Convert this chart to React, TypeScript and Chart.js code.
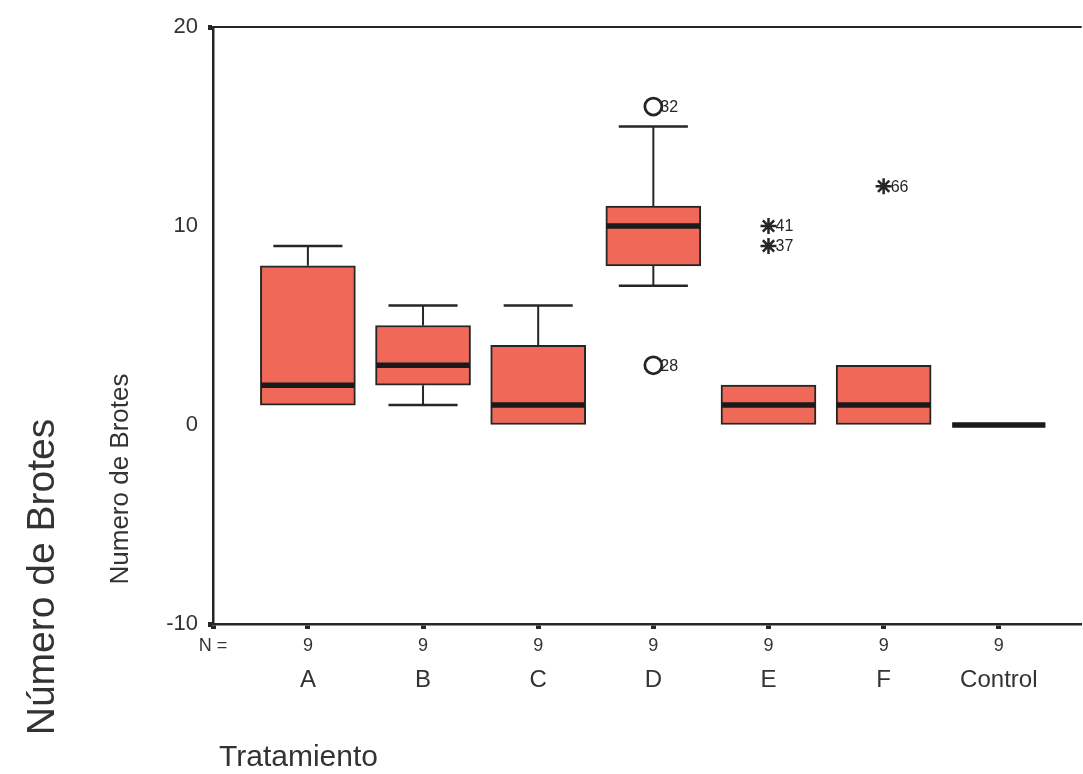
import React, { useEffect, useRef } from 'react';
import { Chart, registerables } from 'chart.js';

Chart.register(...registerables);

// ---- data ----
const categories = ['A', 'B', 'C', 'D', 'E', 'F', 'Control'];
const nCounts = [9, 9, 9, 9, 9, 9, 9];
const whiskerLow = [1, 1, 0, 7, 0, 0, 0];
const quartile1 = [1, 2, 0, 8, 0, 0, 0];
const medians = [2, 3, 1, 10, 1, 1, 0];
const quartile3 = [8, 5, 4, 11, 2, 3, 0];
const whiskerHigh = [9, 6, 6, 15, 2, 3, 0];

const outlierCats = [3, 3];
const outlierValues = [16, 3];
const outlierLabels = ['32', '28'];

const extremeCats = [4, 4, 5];
const extremeValues = [10, 9, 12];
const extremeLabels = ['41', '37', '66'];

const yTicks = [-10, 0, 10, 20];
const nLabel = 'N =';
const xTitle = 'Tratamiento';
const yTitle = 'Numero de Brotes';
const outerTitle = 'Número de Brotes';

// ---- layout / style constants ----
const X_MIN = -0.824;
const X_MAX = 6.72;
const MEDIAN_HALF = 0.405; // half width of median line, in category units
const CAP_HALF = 0.3; // half width of whisker caps, in category units
const FONT = '"Liberation Sans", Arial, sans-serif';
const INK = '#262626';
const BOX_FILL = '#EF6858';

const stemData: any[] = [];
const capData: any[] = [];
const medianData: any[] = [];
categories.forEach((_, i) => {
  if (whiskerHigh[i] > quartile3[i]) {
    stemData.push({ x: i, y: quartile3[i] }, { x: i, y: whiskerHigh[i] }, { x: i, y: null });
    capData.push({ x: i - CAP_HALF, y: whiskerHigh[i] }, { x: i + CAP_HALF, y: whiskerHigh[i] }, { x: i, y: null });
  }
  if (whiskerLow[i] < quartile1[i]) {
    stemData.push({ x: i, y: quartile1[i] }, { x: i, y: whiskerLow[i] }, { x: i, y: null });
    capData.push({ x: i - CAP_HALF, y: whiskerLow[i] }, { x: i + CAP_HALF, y: whiskerLow[i] }, { x: i, y: null });
  }
  medianData.push({ x: i - MEDIAN_HALF, y: medians[i] }, { x: i + MEDIAN_HALF, y: medians[i] }, { x: i, y: null });
});

const pointLabelPlugin = {
  id: 'pointLabelPlugin',
  afterDatasetsDraw(chart: any) {
    const ctx = chart.ctx;
    ctx.save();
    ctx.font = `16px ${FONT}`;
    ctx.fillStyle = INK;
    ctx.textAlign = 'left';
    ctx.textBaseline = 'middle';
    chart.data.datasets.forEach((ds: any, di: number) => {
      if (!ds.pointLabels) return;
      const meta = chart.getDatasetMeta(di);
      meta.data.forEach((el: any, j: number) => {
        ctx.fillText(ds.pointLabels[j], el.x + 7, el.y + 1);
      });
    });
    ctx.restore();
  },
};

const decorPlugin = {
  id: 'decorPlugin',
  afterDraw(chart: any) {
    const ctx = chart.ctx;
    const { left, right, top } = chart.chartArea;
    ctx.save();
    ctx.strokeStyle = INK;
    ctx.lineWidth = 2;
    ctx.beginPath();
    ctx.moveTo(left, top);
    ctx.lineTo(right, top);
    ctx.stroke();

    ctx.fillStyle = '#333';
    ctx.textAlign = 'center';
    ctx.textBaseline = 'middle';

    ctx.save();
    ctx.translate(121, 479);
    ctx.rotate(-Math.PI / 2);
    ctx.font = `26px ${FONT}`;
    ctx.fillText(yTitle, 0, 0);
    ctx.restore();

    ctx.save();
    ctx.translate(43, 577);
    ctx.rotate(-Math.PI / 2);
    ctx.font = `39px ${FONT}`;
    ctx.fillText(outerTitle, 0, 0);
    ctx.restore();

    ctx.textAlign = 'left';
    ctx.font = `30px ${FONT}`;
    ctx.fillText(xTitle, 219, 758);
    ctx.restore();
  },
};

export default function App() {
  const canvasRef = useRef<HTMLCanvasElement | null>(null);

  useEffect(() => {
    const canvas = canvasRef.current;
    if (!canvas) return;
    const chart = new Chart(canvas, {
      type: 'bar',
      data: {
        datasets: [
          {
            type: 'bar',
            label: 'box',
            data: categories.map((_, i) => ({ x: i, y: [quartile1[i], quartile3[i]] })) as any,
            backgroundColor: BOX_FILL,
            borderColor: INK,
            borderWidth: 2,
            borderSkipped: false,
            barThickness: 95,
            order: 5,
          } as any,
          {
            type: 'line',
            label: 'stems',
            data: stemData,
            borderColor: INK,
            borderWidth: 2,
            pointRadius: 0,
            spanGaps: false,
            order: 4,
          } as any,
          {
            type: 'line',
            label: 'caps',
            data: capData,
            borderColor: INK,
            borderWidth: 2.5,
            borderCapStyle: 'butt',
            pointRadius: 0,
            spanGaps: false,
            order: 3,
          } as any,
          {
            type: 'line',
            label: 'medians',
            data: medianData,
            borderColor: '#1a1a1a',
            borderWidth: 5.5,
            borderCapStyle: 'butt',
            pointRadius: 0,
            spanGaps: false,
            order: 2,
          } as any,
          {
            type: 'scatter',
            label: 'outliers',
            data: outlierCats.map((c, i) => ({ x: c, y: outlierValues[i] })),
            pointStyle: 'circle',
            pointRadius: 8.5,
            pointBackgroundColor: '#ffffff',
            borderColor: INK,
            pointBorderColor: INK,
            pointBorderWidth: 2.8,
            pointLabels: outlierLabels,
            order: 1,
          } as any,
          {
            type: 'scatter',
            label: 'extremes',
            data: extremeCats.map((c, i) => ({ x: c, y: extremeValues[i] })),
            pointStyle: 'star',
            pointRadius: 8,
            borderColor: INK,
            pointBorderColor: INK,
            pointBorderWidth: 2.5,
            pointLabels: extremeLabels,
            order: 0,
          } as any,
        ],
      },
      options: {
        responsive: false,
        animation: false,
        events: [],
        layout: { padding: { top: 27, right: 0, bottom: 79, left: 0 } },
        plugins: {
          legend: { display: false },
          tooltip: { enabled: false },
          title: { display: false },
        },
        scales: {
          x: {
            type: 'linear',
            position: 'bottom',
            weight: 0,
            offset: false,
            min: X_MIN,
            max: X_MAX,
            afterBuildTicks: (scale: any) => {
              scale.ticks = [X_MIN, ...categories.map((_, i) => i)].map((v) => ({ value: v }));
            },
            afterFit: (scale: any) => {
              scale.height = 33;
            },
            ticks: {
              autoSkip: false,
              maxRotation: 0,
              padding: 6,
              color: '#333',
              font: { family: FONT, size: 18 },
              callback: (_v: any, index: number) => (index === 0 ? nLabel : String(nCounts[index - 1])),
            },
            grid: {
              display: true,
              offset: false,
              drawOnChartArea: false,
              drawTicks: true,
              tickLength: 5,
              tickWidth: 5,
              tickColor: INK,
            },
            border: { display: true, color: INK, width: 2.5 },
          },
          xCat: {
            type: 'linear',
            position: 'bottom',
            weight: 1,
            offset: false,
            min: X_MIN,
            max: X_MAX,
            afterBuildTicks: (scale: any) => {
              scale.ticks = categories.map((_, i) => ({ value: i }));
            },
            afterFit: (scale: any) => {
              scale.height = 38;
            },
            ticks: {
              autoSkip: false,
              maxRotation: 0,
              padding: 9,
              color: '#333',
              font: { family: FONT, size: 24 },
              callback: (_v: any, index: number) => categories[index],
            },
            grid: { display: false, offset: false, drawTicks: false, tickLength: 0 },
            border: { display: false },
          },
          y: {
            type: 'linear',
            min: -10,
            max: 20,
            afterBuildTicks: (scale: any) => {
              scale.ticks = yTicks.map((v) => ({ value: v }));
            },
            afterFit: (scale: any) => {
              scale.width = 213;
            },
            ticks: {
              padding: 10,
              color: '#333',
              font: { family: FONT, size: 22 },
            },
            grid: {
              display: true,
              drawOnChartArea: false,
              drawTicks: true,
              tickLength: 5,
              tickWidth: 5,
              tickColor: (ctx: any) =>
                ctx.tick && (ctx.tick.value === 20 || ctx.tick.value === -10) ? INK : 'rgba(0,0,0,0)',
            },
            border: { display: true, color: INK, width: 2.5 },
          },
        } as any,
      },
      plugins: [pointLabelPlugin, decorPlugin],
    } as any);
    return () => chart.destroy();
  }, []);

  return (
    <div
      style={{
        position: 'absolute',
        left: 0,
        top: 0,
        width: 1083,
        height: 774,
        overflow: 'hidden',
        background: '#fff',
      }}
    >
      <canvas ref={canvasRef} width={1093} height={774} style={{ display: 'block' }} />
    </div>
  );
}
